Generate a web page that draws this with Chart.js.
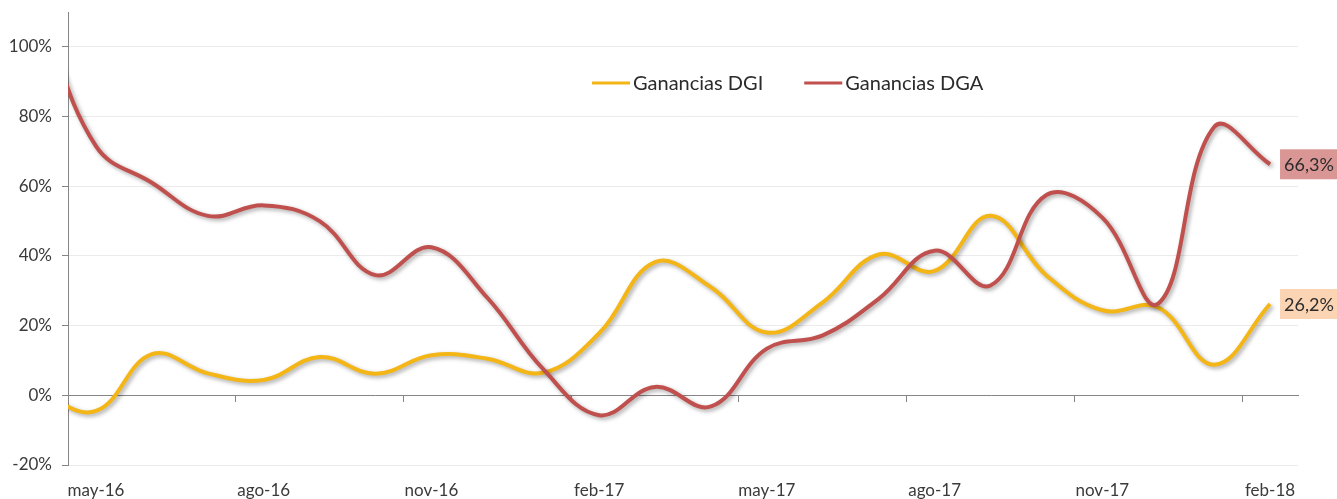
<!DOCTYPE html>
<html>
<head>
<meta charset="utf-8">
<script src="https://cdn.jsdelivr.net/npm/chart.js@4.4.1/dist/chart.umd.min.js"></script>
<style>
  html, body { margin: 0; padding: 0; background: #fff; }
</style>
</head>
<body>
<canvas id="gananciasChart" width="1337" height="499"></canvas>
<script>
// months from abr-16 (index 0, partly clipped) to feb-18
const months = ['abr-16', 'may-16', 'jun-16', 'jul-16', 'ago-16', 'sep-16', 'oct-16', 'nov-16', 'dic-16',
    'ene-17', 'feb-17', 'mar-17', 'abr-17', 'may-17', 'jun-17', 'jul-17', 'ago-17', 'sep-17', 'oct-17',
    'nov-17', 'dic-17', 'ene-18', 'feb-18'];
const gananciasDGI = [0.5, -4.5, 11.8, 6.3, 4.4, 11, 6.2, 11.5, 10.5, 6.5, 17.8, 38.2, 31, 18, 26.7, 40.4,
    35.7, 51.5, 34.4, 24.4, 25.2, 8.8, 26.2];
const gananciasDGA = [111, 71.5, 61, 51.5, 54.5, 50, 34.5, 42.5, 28, 7.5, -5.7, 2.4, -3.2, 13.4, 17.2, 27.7,
    41.5, 31.5, 57.5, 51, 26.3, 77, 66.3];
const labelMonths = [1, 4, 7, 10, 13, 16, 19, 22];       // may, ago, nov, feb
const tickMarks = [3.5, 6.5, 9.5, 12.5, 15.5, 18.5, 21.5]; // between categories
const yTicks = [-20, 0, 20, 40, 60, 80, 100];

const toPoints = arr => arr.map((v, i) => ({ x: i, y: v }));
const fmt = v => v.toFixed(1).replace('.', ',') + '%';

Chart.defaults.font.family = 'Lato';

const shadowPlugin = {
    id: 'lineShadow',
    beforeDatasetDraw(chart) {
        const c = chart.ctx;
        c.save();
        c.shadowColor = 'rgba(0,0,0,0.35)';
        c.shadowBlur = 4;
        c.shadowOffsetX = 2;
        c.shadowOffsetY = 2;
    },
    afterDatasetDraw(chart) {
        chart.ctx.restore();
    }
};

const endLabels = {
    id: 'endLabels',
    afterDatasetsDraw(chart) {
        const c = chart.ctx;
        c.save();
        c.font = '18px Lato';
        c.textBaseline = 'middle';
        chart.data.datasets.forEach((ds, i) => {
            const meta = chart.getDatasetMeta(i);
            const pt = meta.data[meta.data.length - 1];
            const txt = fmt(ds.data[ds.data.length - 1].y);
            const w = c.measureText(txt).width + 8;
            c.fillStyle = ds.labelBg;
            c.fillRect(pt.x + 10, pt.y - 15, w, 30);
            c.fillStyle = '#2b2b2b';
            c.fillText(txt, pt.x + 14, pt.y + 1);
        });
        c.restore();
    }
};

const innerLegend = {
    id: 'innerLegend',
    afterDraw(chart) {
        const c = chart.ctx;
        const area = chart.chartArea;
        let x = area.left + 524;
        const y = area.top + 71;
        c.save();
        c.font = '20px Lato';
        c.textBaseline = 'middle';
        chart.data.datasets.slice().reverse().forEach(ds => {
            c.strokeStyle = ds.borderColor;
            c.lineWidth = 3;
            c.beginPath();
            c.moveTo(x, y);
            c.lineTo(x + 38, y);
            c.stroke();
            c.fillStyle = '#2b2b2b';
            c.fillText(ds.label, x + 41, y + 1);
            x += 41 + c.measureText(ds.label).width + 41;
        });
        c.restore();
    }
};

const ctx = document.getElementById('gananciasChart').getContext('2d');
const gananciasChart = new Chart(ctx, {
    type: 'line',
    data: {
        datasets: [
            {
                label: 'Ganancias DGA',
                data: toPoints(gananciasDGA),
                borderColor: '#c0504d',
                labelBg: '#d99694',
                borderWidth: 4,
                pointRadius: 0,
                fill: false,
                tension: 0.4,
                clip: 0,
                order: 0
            },
            {
                label: 'Ganancias DGI',
                data: toPoints(gananciasDGI),
                borderColor: '#f4b616',
                labelBg: '#fbd4b4',
                borderWidth: 4,
                pointRadius: 0,
                fill: false,
                tension: 0.4,
                clip: 0,
                order: 1
            }
        ]
    },
    options: {
        responsive: false,
        animation: false,
        devicePixelRatio: 1,
        layout: { padding: { top: 12, right: 39, left: 0, bottom: 0 } },
        plugins: {
            legend: { display: false },
            tooltip: { enabled: false }
        },
        scales: {
            x: {
                type: 'linear',
                min: 0.5,
                max: 22.5,
                afterBuildTicks: s => { s.ticks = labelMonths.map(v => ({ value: v })); },
                afterFit: s => { s.height = 34; s.paddingLeft = 0; s.paddingRight = 0; },
                grid: { display: false, drawTicks: false },
                border: { display: false },
                ticks: {
                    padding: 15,
                    color: '#3a3a3a',
                    font: { size: 17 },
                    maxRotation: 0,
                    autoSkip: false,
                    callback: v => months[v]
                }
            },
            x0: {
                type: 'linear',
                axis: 'x',
                position: { y: 0 },
                min: 0.5,
                max: 22.5,
                afterBuildTicks: s => { s.ticks = tickMarks.map(v => ({ value: v })); },
                afterFit: s => { s.paddingLeft = 0; s.paddingRight = 0; },
                grid: { drawOnChartArea: false, tickLength: 6, tickColor: '#868686' },
                border: { color: '#868686', width: 1 },
                ticks: { display: false }
            },
            y: {
                min: -20,
                max: 110,
                afterBuildTicks: s => { s.ticks = yTicks.map(v => ({ value: v })); },
                afterFit: s => { s.width = 68; s.paddingTop = 0; s.paddingBottom = 0; },
                grid: { color: '#ebebeb', tickLength: 6, tickColor: '#868686' },
                border: { color: '#868686', width: 1 },
                ticks: {
                    padding: 10,
                    color: '#3a3a3a',
                    font: { size: 17 },
                    callback: v => v + '%'
                }
            }
        }
    },
    plugins: [shadowPlugin, endLabels, innerLegend]
});
</script>
</body>
</html>
